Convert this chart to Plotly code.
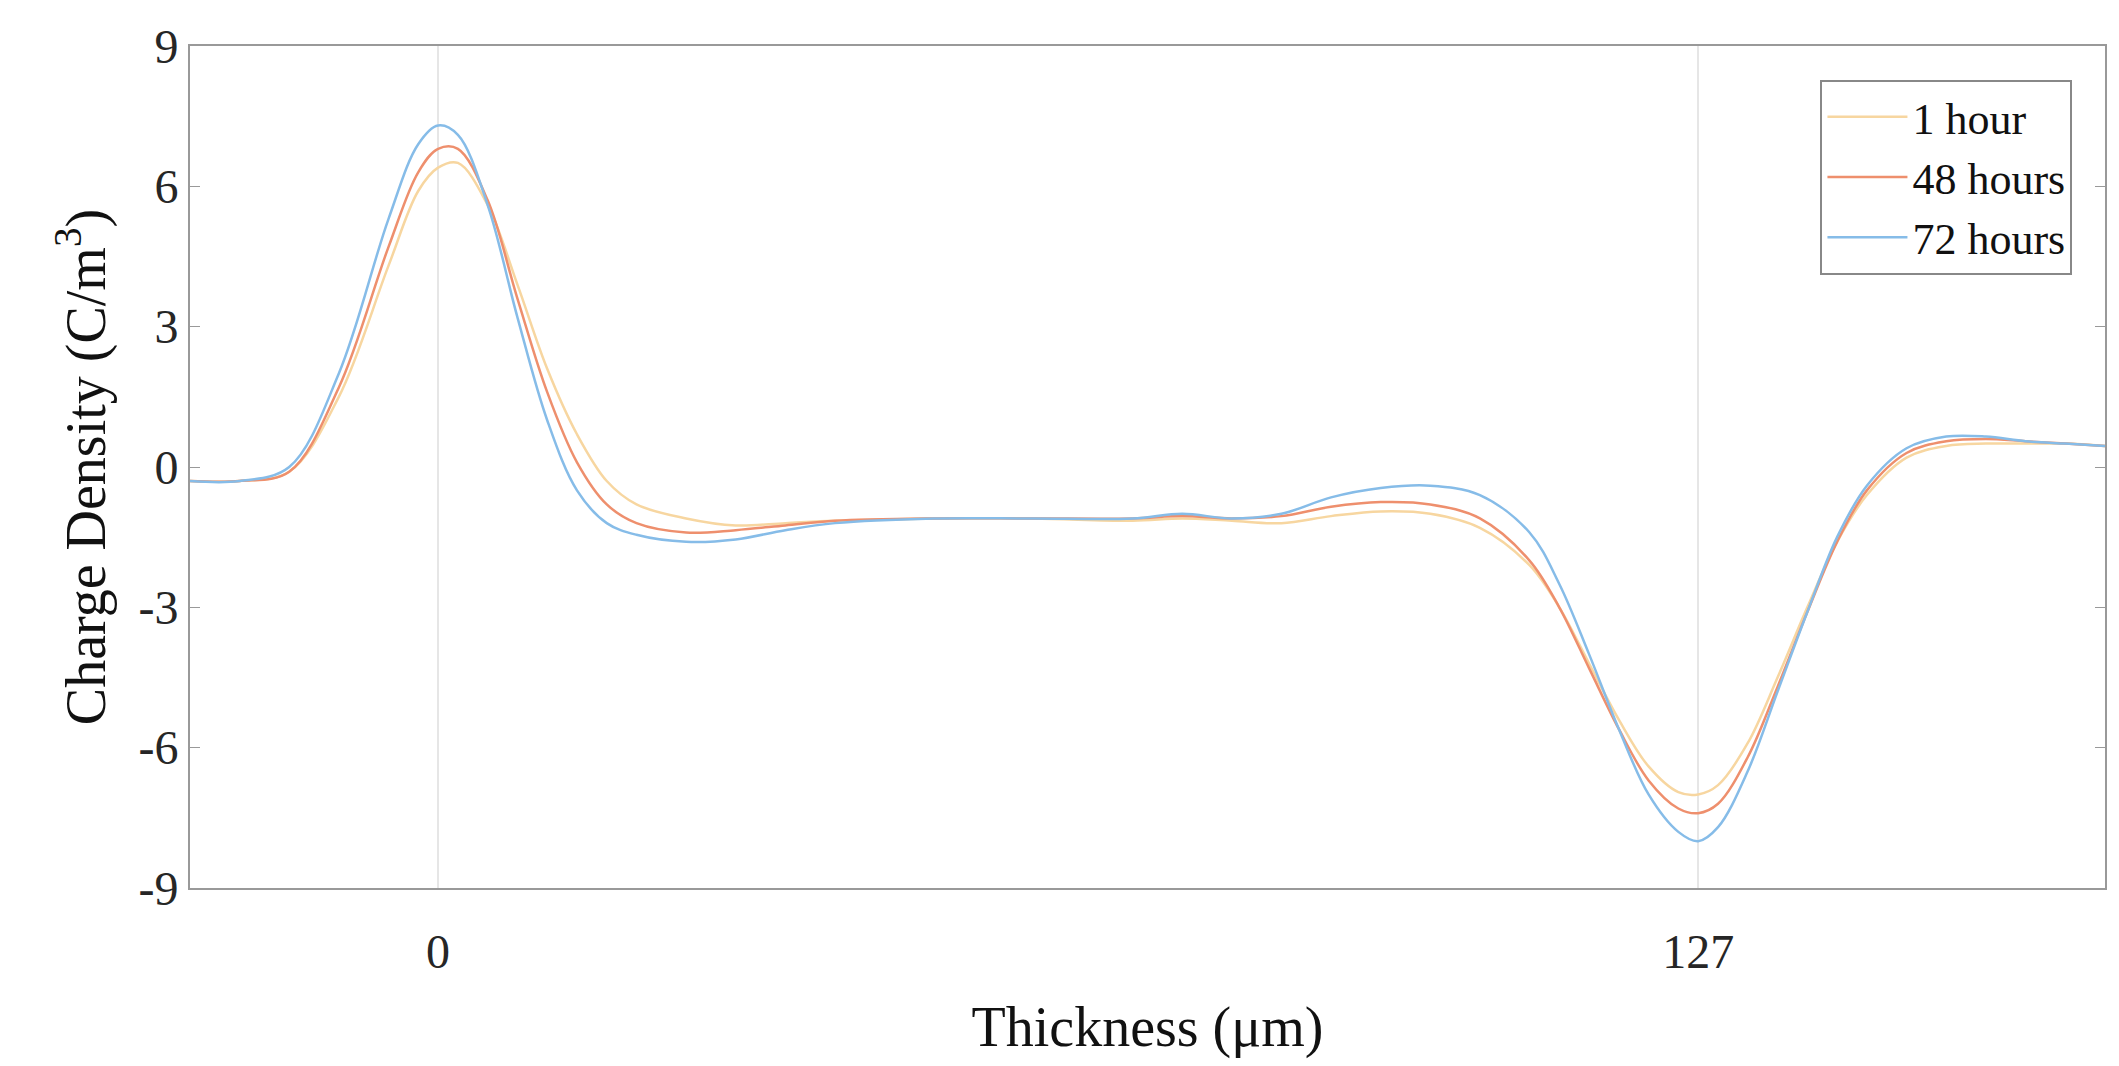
import plotly.graph_objects as go

x = [-25,-20,-15,-10,-5,-2,0,2,5,8,11,14,17,20,25,30,35,40,50,60,70,75,80,85,90,95,100,105,110,113,116,119,122,125,127,129,132,135,138,141,144,148,152,156,160,164,168]
h1 = [-0.3,-0.3,-0.1,1.5,4.3,5.9,6.4,6.5,5.6,3.9,2.1,0.7,-0.3,-0.8,-1.1,-1.25,-1.2,-1.15,-1.1,-1.1,-1.15,-1.1,-1.15,-1.2,-1.05,-0.95,-1.0,-1.3,-2.1,-3.0,-4.2,-5.4,-6.4,-6.95,-7.0,-6.8,-5.9,-4.5,-3.0,-1.6,-0.6,0.2,0.45,0.5,0.5,0.5,0.45]
h48 = [-0.3,-0.3,-0.1,1.7,4.7,6.3,6.8,6.8,5.7,3.6,1.6,0.1,-0.8,-1.2,-1.4,-1.35,-1.25,-1.15,-1.1,-1.1,-1.1,-1.05,-1.1,-1.05,-0.85,-0.75,-0.8,-1.1,-2.0,-3.0,-4.3,-5.6,-6.7,-7.3,-7.4,-7.2,-6.2,-4.7,-3.1,-1.6,-0.5,0.3,0.55,0.6,0.55,0.5,0.45]
h72 = [-0.3,-0.3,0.0,2.0,5.3,6.9,7.3,7.1,5.6,3.2,1.0,-0.5,-1.2,-1.45,-1.6,-1.55,-1.35,-1.2,-1.1,-1.1,-1.1,-1.0,-1.1,-1.0,-0.65,-0.45,-0.4,-0.6,-1.4,-2.5,-4.0,-5.6,-7.0,-7.8,-8.0,-7.7,-6.5,-4.8,-3.1,-1.5,-0.4,0.4,0.65,0.65,0.55,0.5,0.45]
names = ["1 hour", "48 hours", "72 hours"]
colors = ["#F7D6A0", "#EE8F6D", "#86BCE8"]
ytickvals = [-9, -6, -3, 0, 3, 6, 9]
yticktext = ["-9", "-6", "-3", "0", "3", "6", "9"]

fig = go.Figure()
for n, y, c in zip(names, [h1, h48, h72], colors):
    fig.add_trace(go.Scatter(x=x, y=y, name=n, mode="lines",
                             line=dict(color=c, width=2.5, shape="spline", smoothing=1.0)))

font = "Liberation Serif, Times New Roman, serif"
fig.update_layout(
    width=2119, height=1066, paper_bgcolor="white", plot_bgcolor="white",
    margin=dict(l=182, r=22, t=38, b=186),
    font=dict(family=font, size=48, color="#262626"),
    legend=dict(x=0.983, y=0.96, xanchor="right", yanchor="top",
                bordercolor="#888", borderwidth=2, bgcolor="white",
                font=dict(size=44, color="#111"), itemwidth=80),
)
fig.update_xaxes(range=[-25, 168], tickvals=[0, 127], ticks="", showgrid=True,
                 gridcolor="#E6E6E6", gridwidth=2, zeroline=False,
                 showline=True, linecolor="#999", linewidth=2, mirror=True,
                 ticklabelstandoff=20,
                 title=dict(text="Thickness (μm)", font=dict(size=56, color="#111"), standoff=30),
                 tickfont=dict(size=48))
fig.update_yaxes(range=[-9, 9], tickvals=ytickvals, ticktext=yticktext, ticks="inside", ticklen=10,
                 tickcolor="#999", showgrid=False, zeroline=False,
                 showline=True, linecolor="#999", linewidth=2, mirror="ticks",
                 title=dict(text="Charge Density (C/m<sup>3</sup>)", font=dict(size=56, color="#111"), standoff=15),
                 tickfont=dict(size=48))
fig.write_html("out.html")
